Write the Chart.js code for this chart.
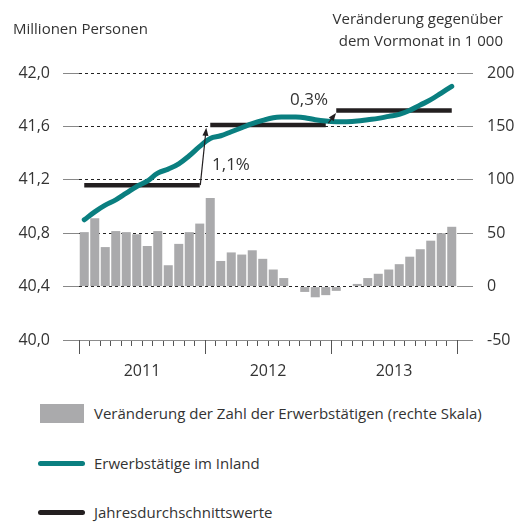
<!DOCTYPE html>
<html lang="de">
<head>
<meta charset="utf-8">
<script src="https://cdn.jsdelivr.net/npm/chart.js@4/dist/chart.umd.min.js"></script>
<style>
  body { margin: 0; background: #fff; font-family: "Open Sans", sans-serif; color: #333; }
  #wrap { position: relative; width: 515px; height: 522px; overflow: hidden; }
  canvas { position: absolute; left: 0; top: 0; }
  .t { position: absolute; font-size: 15px; line-height: 22px; white-space: nowrap; }
  .lg { position: absolute; left: 94px; font-size: 15px; line-height: 22px; white-space: nowrap; }
  .sw { position: absolute; }
</style>
</head>
<body>
<div id="wrap">
  <canvas id="chart" width="515" height="390"></canvas>
  <div class="t" style="left:13px; top:17px;">Millionen Personen</div>
  <div class="t" style="right:12px; top:7px; text-align:right;">Veränderung gegenüber<br>dem Vormonat in 1 000</div>
  <div id="legend"></div>
</div>
<script>
// Achsen / Kategorien
const years = ['2011', '2012', '2013'];
const monthNames = ['Jan', 'Feb', 'Mär', 'Apr', 'Mai', 'Jun', 'Jul', 'Aug', 'Sep', 'Okt', 'Nov', 'Dez'];
const leftTickLabels = ['40,0', '40,4', '40,8', '41,2', '41,6', '42,0'];
const rightTickLabels = ['-50', '0', '50', '100', '150', '200'];

// Veränderung gegenüber Vormonat (1 000)
const changeValues = [51, 64, 37, 52, 51, 49, 38, 52, 20, 40, 51, 59,
                      83, 24, 32, 30, 34, 26, 16, 8, 0, -5, -10, -8,
                      -4, 0, 2.5, 8, 12, 16, 21, 28, 35, 43, 50, 56];

// Erwerbstätige im Inland (Mill.)
const employed = [40.90, 40.96, 41.01, 41.05, 41.10, 41.15, 41.19, 41.25, 41.28, 41.32, 41.38, 41.45,
                  41.51, 41.53, 41.56, 41.59, 41.62, 41.645, 41.665, 41.67, 41.67, 41.665, 41.65, 41.64,
                  41.635, 41.635, 41.64, 41.65, 41.66, 41.675, 41.69, 41.72, 41.76, 41.80, 41.85, 41.90];

// Jahresdurchschnittswerte
const annualAvg = [41.16, 41.61, 41.72];

// Pfeile mit Veränderungsraten
const arrowLabels = ['1,1%', '0,3%'];
const arrowFrom = [[11.05, 41.16], [23.25, 41.625]];
const arrowTo = [[11.62, 41.59], [23.98, 41.70]];
const arrowLabelPos = [[12.17, 41.31], [19.6, 41.80]];

const legendLabels = ['Veränderung der Zahl der Erwerbstätigen (rechte Skala)', 'Erwerbstätige im Inland', 'Jahresdurchschnittswerte'];

const TEAL = '#0a7f80';
const BLACK = '#231f20';
const GREY = '#aaaaac';

const labels = [];
years.forEach(y => monthNames.forEach(m => labels.push(m + ' ' + y)));

const avgSets = annualAvg.map((v, k) => ({
  type: 'line',
  data: labels.map((_, i) => Math.floor(i / 12) === k ? v : null),
  borderColor: BLACK,
  borderWidth: 4.5,
  borderCapStyle: 'butt',
  pointRadius: 0,
  spanGaps: false,
  yAxisID: 'y',
  order: 1
}));

function drawArrow(ctx, x1, y1, x2, y2) {
  const a = Math.atan2(y2 - y1, x2 - x1);
  const L = 8, W = 3;
  ctx.beginPath();
  ctx.moveTo(x1, y1);
  ctx.lineTo(x2 - L * 0.7 * Math.cos(a), y2 - L * 0.7 * Math.sin(a));
  ctx.stroke();
  ctx.beginPath();
  ctx.moveTo(x2, y2);
  ctx.lineTo(x2 - L * Math.cos(a) + W * Math.sin(a), y2 - L * Math.sin(a) - W * Math.cos(a));
  ctx.lineTo(x2 - L * Math.cos(a) - W * Math.sin(a), y2 - L * Math.sin(a) + W * Math.cos(a));
  ctx.closePath();
  ctx.fill();
}

// Jahres-Teilstriche, Pfeile und Beschriftungen
const overlay = {
  id: 'overlay',
  afterDraw(chart) {
    const { ctx, scales: { x, y }, chartArea } = chart;
    ctx.save();
    ctx.strokeStyle = '#555';
    ctx.lineWidth = 1;
    for (let k = 0; k <= years.length; k++) {
      const px = Math.round(x.getPixelForValue(k * 12 - 0.5)) + 0.5;
      ctx.beginPath();
      ctx.moveTo(px, chartArea.bottom);
      ctx.lineTo(px, chartArea.bottom + 14);
      ctx.stroke();
    }
    ctx.strokeStyle = BLACK;
    ctx.fillStyle = BLACK;
    ctx.lineWidth = 1.2;
    arrowFrom.forEach((f, i) => {
      drawArrow(ctx,
        x.getPixelForValue(f[0]), y.getPixelForValue(f[1]),
        x.getPixelForValue(arrowTo[i][0]), y.getPixelForValue(arrowTo[i][1]));
    });
    ctx.fillStyle = '#333';
    ctx.font = '17px "Open Sans"';
    ctx.textAlign = 'left';
    ctx.textBaseline = 'middle';
    arrowLabels.forEach((t, i) => {
      ctx.fillText(t, x.getPixelForValue(arrowLabelPos[i][0]), y.getPixelForValue(arrowLabelPos[i][1]));
    });
    ctx.restore();
  }
};

Chart.defaults.font.family = '"Open Sans", sans-serif';
Chart.defaults.color = '#333';

new Chart(document.getElementById('chart'), {
  type: 'bar',
  data: {
    labels: labels,
    datasets: [
      {
        type: 'line',
        data: employed,
        borderColor: TEAL,
        borderWidth: 5,
        borderCapStyle: 'round',
        tension: 0.4,
        pointRadius: 0,
        yAxisID: 'y',
        order: 0
      },
      ...avgSets,
      {
        type: 'bar',
        data: changeValues,
        backgroundColor: GREY,
        barPercentage: 0.86,
        categoryPercentage: 1,
        yAxisID: 'y2',
        order: 2
      }
    ]
  },
  options: {
    responsive: false,
    animation: false,
    layout: { padding: { top: 73, left: 0, right: 0, bottom: 0 } },
    plugins: { legend: { display: false }, tooltip: { enabled: false } },
    scales: {
      x: {
        offset: true,
        grid: { offset: true, drawOnChartArea: false, tickLength: 6, tickColor: '#555' },
        border: { display: true, color: '#8c8c8c', width: 1 },
        ticks: {
          autoSkip: false, maxRotation: 0, padding: 16, labelOffset: 5.25,
          font: { size: 16 }, color: '#333',
          callback: (v, i) => i % 12 === 5 ? years[Math.floor(i / 12)] : ''
        },
        afterFit: s => { s.height = 50; }
      },
      y: {
        position: 'left', min: 40, max: 42,
        ticks: { stepSize: 0.4, padding: 13, font: { size: 16 }, color: '#333',
                 callback: (v, i) => leftTickLabels[i] },
        grid: {
          color: c => (c.tick && c.tick.value < 40.01) ? 'rgba(0,0,0,0)' : '#222',
          lineWidth: 1, tickLength: 16, tickColor: '#888', tickWidth: 1
        },
        border: { display: false, dash: [3, 3] },
        afterFit: s => { s.width = 79; }
      },
      y2: {
        position: 'right', min: -50, max: 200,
        ticks: { stepSize: 50, padding: 14, font: { size: 16 }, color: '#333',
                 callback: (v, i) => rightTickLabels[i] },
        grid: { drawOnChartArea: false, tickLength: 16, tickColor: '#888', tickWidth: 1 },
        border: { display: false },
        afterFit: s => { s.width = 58; }
      }
    }
  },
  plugins: [overlay]
});

// Legende
const swatches = [
  'left:40px; top:404px; width:44px; height:19px; background:' + GREY + ';',
  'left:38px; top:460.5px; width:47px; height:5px; border-radius:2.5px; background:' + TEAL + ';',
  'left:38px; top:509.5px; width:47px; height:5px; border-radius:2.5px; background:' + BLACK + ';'
];
const legendY = [413, 463, 512];
const legend = document.getElementById('legend');
legendLabels.forEach((txt, i) => {
  const sw = document.createElement('div');
  sw.className = 'sw';
  sw.style.cssText = swatches[i];
  legend.appendChild(sw);
  const lb = document.createElement('div');
  lb.className = 'lg';
  lb.style.top = (legendY[i] - 11) + 'px';
  lb.textContent = txt;
  legend.appendChild(lb);
});
</script>
</body>
</html>
